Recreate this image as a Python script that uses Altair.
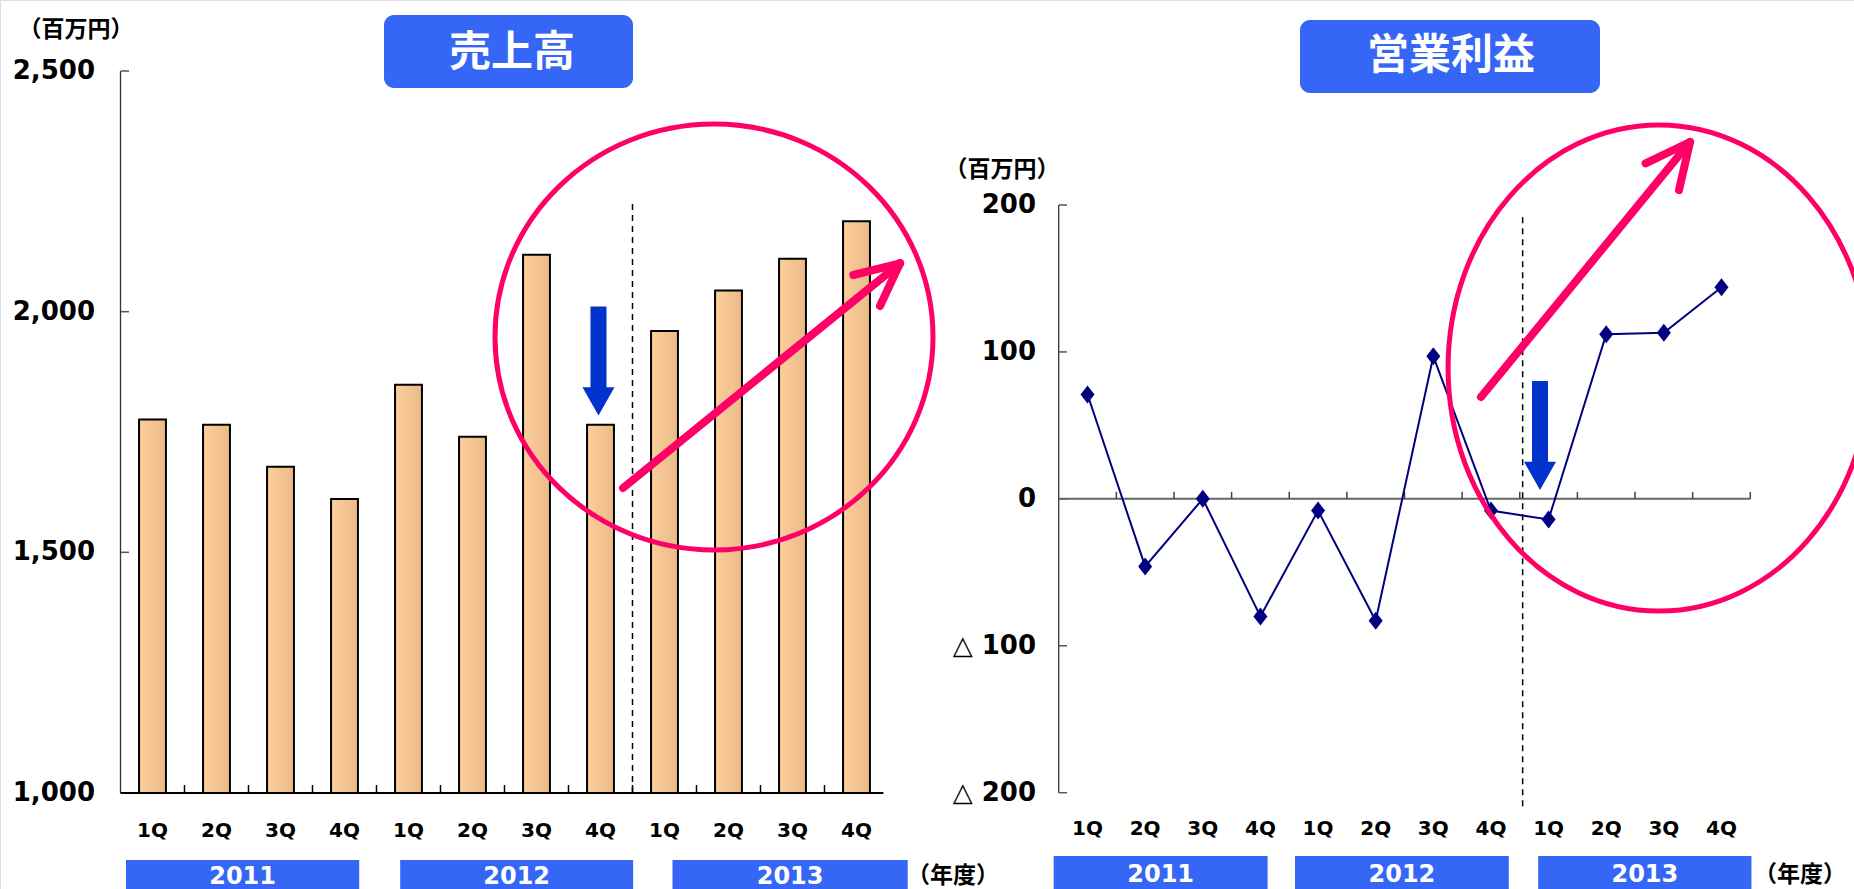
import altair as alt
import pandas as pd

# ---------------- data ----------------
quarters = ["1Q", "2Q", "3Q", "4Q", "1Q", "2Q", "3Q", "4Q", "1Q", "2Q", "3Q", "4Q"]
years = ["2011", "2012", "2013"]
sales = [1776, 1765, 1678, 1611, 1848, 1740, 2118, 1765, 1960, 2044, 2110, 2188]
profit = [71, -46, 0, -80, -8, -83, 97, -8, -14, 112, 113, 144]
sales_ticks = [1000, 1500, 2000, 2500]
sales_tick_labels = ["1,000", "1,500", "2,000", "2,500"]
profit_ticks = [-200, -100, 0, 100, 200]
profit_tick_labels = ["△ 200", "△ 100", "0", "100", "200"]
sales_title = "売上高"
profit_title = "営業利益"
unit_label = "（百万円）"
year_unit_label = "（年度）"

# ---------------- layout / style ----------------
W, H = 1854, 889
FNUM = "DejaVu Sans"
FJP = "Noto Sans CJK JP"
BLUE_BOX = "#3566F6"
PINK = "#FF0066"
ARROW_BLUE = "#0033CC"
NAVY = "#000080"

def S(domain, rng):
    return alt.Scale(domain=domain, range=rng, nice=False, zero=False)

XL = S([0, 12], [120.5, 888.5])
YL = S([1000, 2500], [793, 71])
XR = S([0, 12], [1058.7, 1750.3])
YR = S([-200, 200], [792.7, 205])
PX = S([0, W], [0, W])
PY = S([0, H], [0, H])

BAR_HALF = 0.21
L_AXIS_END = 11.92
L_TICK = 8 * 1500 / 722.0
R_TICK = 7 * 400 / 587.7
L_BOX = [(0.086, 3.73), (4.37, 8.01), (8.625, 12.3)]
R_BOX = [(-0.087, 3.625), (4.10, 7.81), (8.32, 12.02)]

one = pd.DataFrame({"k": [0]})


def text(t, x, y, size, font, color="black", weight="bold", align="center", baseline="middle"):
    return alt.Chart(pd.DataFrame({"t": [t]})).mark_text(
        font=font, fontSize=size, fontWeight=weight, color=color, align=align, baseline=baseline
    ).encode(x=alt.value(x), y=alt.value(y), text="t:N")


def box(x1, x2, y1, y2, radius=0):
    df = pd.DataFrame({"x1": [x1], "x2": [x2], "y1": [y1], "y2": [y2]})
    return alt.Chart(df).mark_rect(color=BLUE_BOX, cornerRadius=radius).encode(
        x=alt.X("x1:Q", scale=PX, axis=None), x2="x2:Q",
        y=alt.Y("y1:Q", scale=PY, axis=None), y2="y2:Q")


layers = []

# ---------------- LEFT: sales bars ----------------
grad = alt.LinearGradient(
    gradient="linear",
    stops=[alt.GradientStop(color="#FBCE9C", offset=0), alt.GradientStop(color="#ECBA89", offset=1)],
    x1=0, x2=1, y1=0, y2=0)
df_bar = pd.DataFrame({"q": quarters, "v": sales, "i": list(range(12))})
df_bar["lo"] = df_bar["i"] + 0.5 - BAR_HALF
df_bar["hi"] = df_bar["i"] + 0.5 + BAR_HALF
df_bar["base"] = 1000
layers.append(alt.Chart(df_bar).mark_rect(fill=grad, stroke="black", strokeWidth=2).encode(
    x=alt.X("lo:Q", scale=XL, axis=None), x2="hi:Q",
    y=alt.Y("v:Q", scale=YL, axis=None), y2="base:Q"))

# y axis line + inward ticks + labels
layers.append(alt.Chart(pd.DataFrame({"x": [0], "a": [1000], "b": [2500]})).mark_rule(
    color="#333333", strokeWidth=1.3).encode(
    x=alt.X("x:Q", scale=XL, axis=None), y=alt.Y("a:Q", scale=YL, axis=None), y2="b:Q"))
df_lt = pd.DataFrame({"v": sales_ticks, "lab": sales_tick_labels})
layers.append(alt.Chart(df_lt).mark_rule(color="#555555", strokeWidth=1.5).encode(
    x=alt.value(121), x2=alt.value(129), y=alt.Y("v:Q", scale=YL, axis=None)))
layers.append(alt.Chart(df_lt).mark_text(
    font=FNUM, fontSize=26, fontWeight="bold", align="right", baseline="middle", color="black").encode(
    x=alt.value(95), y=alt.Y("v:Q", scale=YL, axis=None), text="lab:N"))

# x axis line + ticks
layers.append(alt.Chart(pd.DataFrame({"a": [0], "b": [L_AXIS_END], "y": [1000]})).mark_rule(
    color="black", strokeWidth=2).encode(
    x=alt.X("a:Q", scale=XL, axis=None), x2="b:Q", y=alt.Y("y:Q", scale=YL, axis=None)))
df_xt = pd.DataFrame({"v": list(range(1, 12)), "a": 1000, "b": 1000 + L_TICK})
layers.append(alt.Chart(df_xt).mark_rule(color="black", strokeWidth=1.5).encode(
    x=alt.X("v:Q", scale=XL, axis=None), y=alt.Y("a:Q", scale=YL, axis=None), y2="b:Q"))

# quarter labels
df_ql = pd.DataFrame({"q": quarters, "c": [i + 0.5 for i in range(12)]})
layers.append(alt.Chart(df_ql).mark_text(
    font=FNUM, fontSize=20, fontWeight="bold", baseline="alphabetic", color="black").encode(
    x=alt.X("c:Q", scale=XL, axis=None), y=alt.value(837), text="q:N"))

# year boxes
df_yl = pd.DataFrame({"y": years, "s": [b[0] for b in L_BOX], "e": [b[1] for b in L_BOX]})
df_yl["m"] = (df_yl["s"] + df_yl["e"]) / 2
layers.append(alt.Chart(df_yl).mark_rect(color=BLUE_BOX).encode(
    x=alt.X("s:Q", scale=XL, axis=None), x2="e:Q", y=alt.value(860), y2=alt.value(895)))
layers.append(alt.Chart(df_yl).mark_text(
    font=FNUM, fontSize=24, fontWeight="bold", color="white", baseline="alphabetic").encode(
    x=alt.X("m:Q", scale=XL, axis=None), y=alt.value(884), text="y:N"))

# dashed divider
layers.append(alt.Chart(pd.DataFrame({"x": [8.0], "a": [1000], "b": [2230]})).mark_rule(
    color="black", strokeWidth=1.5, strokeDash=[6, 5]).encode(
    x=alt.X("x:Q", scale=XL, axis=None), y=alt.Y("a:Q", scale=YL, axis=None), y2="b:Q"))

# ---------------- RIGHT: operating profit ----------------
layers.append(alt.Chart(pd.DataFrame({"x": [0], "a": [-200], "b": [200]})).mark_rule(
    color="#333333", strokeWidth=1.3).encode(
    x=alt.X("x:Q", scale=XR, axis=None), y=alt.Y("a:Q", scale=YR, axis=None), y2="b:Q"))
df_rt = pd.DataFrame({"v": profit_ticks, "lab": profit_tick_labels})
layers.append(alt.Chart(df_rt).mark_rule(color="#555555", strokeWidth=1.5).encode(
    x=alt.value(1059), x2=alt.value(1067), y=alt.Y("v:Q", scale=YR, axis=None)))
layers.append(alt.Chart(df_rt).mark_text(
    font=FNUM, fontSize=26, fontWeight="bold", align="right", baseline="middle", color="black").encode(
    x=alt.value(1036), y=alt.Y("v:Q", scale=YR, axis=None), text="lab:N"))
# zero line + ticks
layers.append(alt.Chart(pd.DataFrame({"a": [0], "b": [12], "y": [0]})).mark_rule(
    color="#666666", strokeWidth=2).encode(
    x=alt.X("a:Q", scale=XR, axis=None), x2="b:Q", y=alt.Y("y:Q", scale=YR, axis=None)))
df_rxt = pd.DataFrame({"v": list(range(1, 13)), "a": 0, "b": R_TICK})
layers.append(alt.Chart(df_rxt).mark_rule(color="#444444", strokeWidth=1.5).encode(
    x=alt.X("v:Q", scale=XR, axis=None), y=alt.Y("a:Q", scale=YR, axis=None), y2="b:Q"))
# quarter labels
layers.append(alt.Chart(df_ql).mark_text(
    font=FNUM, fontSize=20, fontWeight="bold", baseline="alphabetic", color="black").encode(
    x=alt.X("c:Q", scale=XR, axis=None), y=alt.value(835), text="q:N"))
# year boxes
df_yr = pd.DataFrame({"y": years, "s": [b[0] for b in R_BOX], "e": [b[1] for b in R_BOX]})
df_yr["m"] = (df_yr["s"] + df_yr["e"]) / 2
layers.append(alt.Chart(df_yr).mark_rect(color=BLUE_BOX).encode(
    x=alt.X("s:Q", scale=XR, axis=None), x2="e:Q", y=alt.value(856), y2=alt.value(895)))
layers.append(alt.Chart(df_yr).mark_text(
    font=FNUM, fontSize=24, fontWeight="bold", color="white", baseline="alphabetic").encode(
    x=alt.X("m:Q", scale=XR, axis=None), y=alt.value(882), text="y:N"))
# dashed divider
layers.append(alt.Chart(pd.DataFrame({"x": [8.05], "a": [-209.3], "b": [192.5]})).mark_rule(
    color="black", strokeWidth=1.5, strokeDash=[6, 5]).encode(
    x=alt.X("x:Q", scale=XR, axis=None), y=alt.Y("a:Q", scale=YR, axis=None), y2="b:Q"))
# line + diamonds
df_p = pd.DataFrame({"q": quarters, "v": profit, "c": [i + 0.5 for i in range(12)]})
layers.append(alt.Chart(df_p).mark_line(color=NAVY, strokeWidth=2).encode(
    x=alt.X("c:Q", scale=XR, axis=None), y=alt.Y("v:Q", scale=YR, axis=None)))
layers.append(alt.Chart(df_p).mark_point(
    shape="M0,-1L0.78,0L0,1L-0.78,0Z", filled=True, size=324, color=NAVY, opacity=1).encode(
    x=alt.X("c:Q", scale=XR, axis=None), y=alt.Y("v:Q", scale=YR, axis=None)))

# ---------------- annotations ----------------
# pink ellipses
layers.append(alt.Chart(one).mark_point(
    shape="M-1,0A1,0.9726,0,0,1,1,0A1,0.9726,0,0,1,-1,0Z", filled=False, size=438 ** 2,
    color=PINK, strokeWidth=5, opacity=1).encode(x=alt.value(714), y=alt.value(337)))
layers.append(alt.Chart(one).mark_point(
    shape="M-0.868,0A0.868,1,0,0,1,0.868,0A0.868,1,0,0,1,-0.868,0Z", filled=False, size=486 ** 2,
    color=PINK, strokeWidth=5, opacity=1).encode(x=alt.value(1659), y=alt.value(368)))
# pink arrows
segs = pd.DataFrame({
    "x1": [623, 900, 900, 1481, 1690, 1690],
    "y1": [488, 263.3, 263.3, 397, 142, 142],
    "x2": [900, 853.3, 880, 1690, 1645.6, 1679],
    "y2": [263.3, 275, 306, 142, 163.3, 190],
})
layers.append(alt.Chart(segs).mark_rule(color=PINK, strokeWidth=8, strokeCap="round").encode(
    x=alt.X("x1:Q", scale=PX, axis=None), x2="x2:Q",
    y=alt.Y("y1:Q", scale=PY, axis=None), y2="y2:Q"))
# blue down arrows
arrow_path = "M-0.147,-1L0.147,-1L0.147,0.48L0.294,0.48L0,1L-0.294,0.48L-0.147,0.48Z"
arrows = pd.DataFrame({"x": [598.5, 1540], "y": [361, 435.5]})
layers.append(alt.Chart(arrows).mark_point(
    shape=arrow_path, filled=True, size=109 ** 2, color=ARROW_BLUE, opacity=1).encode(
    x=alt.X("x:Q", scale=PX, axis=None), y=alt.Y("y:Q", scale=PY, axis=None)))

# titles
layers.append(box(384, 633, 15, 88, radius=10))
layers.append(text(sales_title, 512, 53, 42, FJP, color="white"))
layers.append(box(1300, 1600, 20, 93, radius=10))
layers.append(text(profit_title, 1451, 56, 42, FJP, color="white"))

# unit labels
layers.append(text(unit_label, 76, 30, 23, FJP))
layers.append(text(unit_label, 1002, 170, 23, FJP))
layers.append(text(year_unit_label, 953, 876, 23, FJP))
layers.append(text(year_unit_label, 1800, 875, 23, FJP))

chart = alt.layer(*layers).resolve_scale(x="independent", y="independent").properties(
    width=W, height=H,
    autosize=alt.AutoSizeParams(type="none"),
    padding={"left": 0, "top": 0, "right": 0, "bottom": 0},
).configure_view(stroke=None).configure(background="white")

chart.save("out.html", embed_options={"renderer": "svg", "actions": False})
